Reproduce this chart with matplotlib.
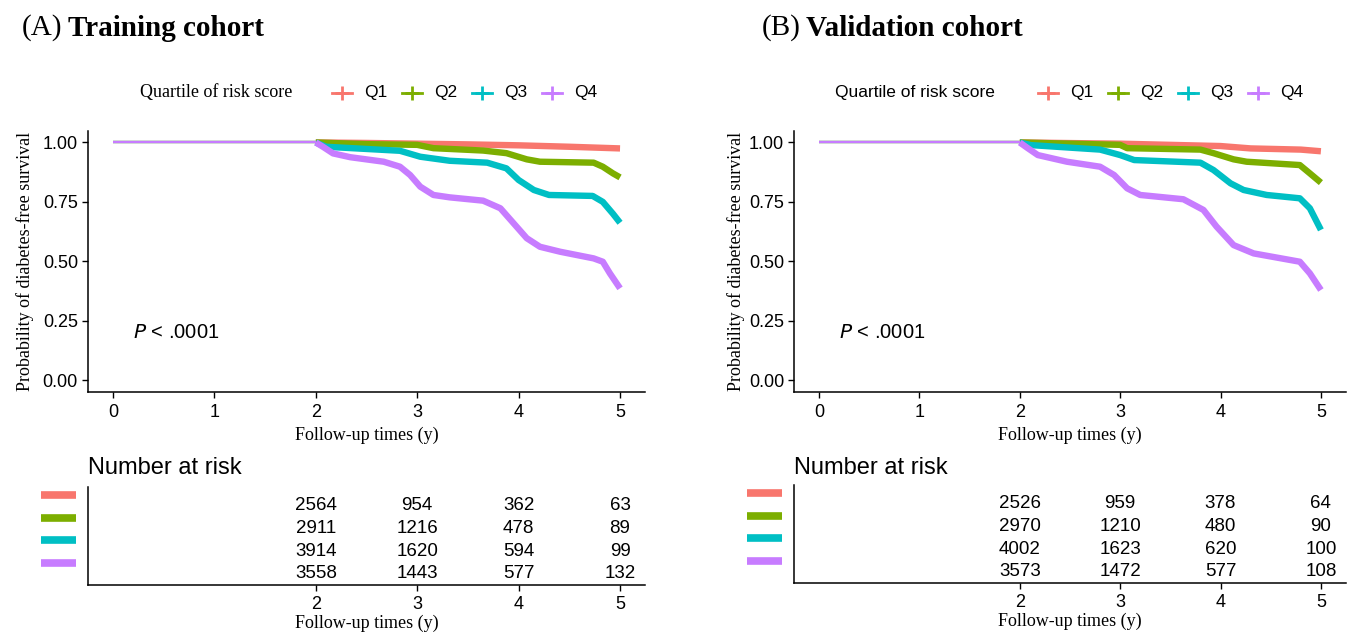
import matplotlib
matplotlib.use('Agg')
import matplotlib.pyplot as plt
from matplotlib.lines import Line2D
from matplotlib.transforms import blended_transform_factory

plt.rcParams['font.family'] = ['Liberation Sans', 'DejaVu Sans']

groups = ['Q1', 'Q2', 'Q3', 'Q4']
colors = ['#F8766D', '#7CAE00', '#00BFC4', '#C77CFF']
risk_times = [2, 3, 4, 5]

# Training cohort curves (years, survival probability)
a_q1_t = [0, 2, 2.5, 3, 3.5, 4, 4.5, 5]
a_q1_s = [1, 1, 0.998, 0.995, 0.992, 0.988, 0.982, 0.975]
a_q2_t = [0, 2, 2.5, 3.0, 3.16, 3.65, 3.88, 4.08, 4.21, 4.74, 4.83, 4.93, 5.0]
a_q2_s = [1, 1, 0.993, 0.99, 0.976, 0.966, 0.955, 0.929, 0.919, 0.915, 0.898, 0.87, 0.853]
a_q3_t = [0, 2, 2.1, 2.83, 3.03, 3.32, 3.69, 3.88, 4.0, 4.15, 4.3, 4.73, 4.83, 4.93, 5.0]
a_q3_s = [1, 1, 0.982, 0.965, 0.94, 0.923, 0.915, 0.891, 0.842, 0.80, 0.779, 0.775, 0.75, 0.70, 0.662]
a_q4_t = [0, 2, 2.07, 2.17, 2.34, 2.67, 2.83, 2.93, 3.03, 3.16, 3.32, 3.65, 3.82, 3.95, 4.08,
          4.21, 4.41, 4.74, 4.83, 4.9, 5.0]
a_q4_s = [1, 1, 0.982, 0.954, 0.938, 0.919, 0.898, 0.863, 0.814, 0.779, 0.769, 0.755, 0.723, 0.66, 0.597,
          0.561, 0.54, 0.512, 0.498, 0.449, 0.386]

# Validation cohort curves
b_q1_t = [0, 2, 3, 3.5, 4, 4.3, 4.8, 5]
b_q1_s = [1, 1, 0.995, 0.99, 0.985, 0.975, 0.97, 0.963]
b_q2_t = [0, 2, 3.0, 3.07, 3.8, 3.93, 4.13, 4.26, 4.79, 4.89, 5.0]
b_q2_s = [1, 1, 0.99, 0.976, 0.97, 0.955, 0.929, 0.919, 0.905, 0.87, 0.831]
b_q3_t = [0, 2, 2.11, 2.8, 3.0, 3.14, 3.8, 3.93, 4.1, 4.23, 4.46, 4.79, 4.89, 5.0]
b_q3_s = [1, 1, 0.989, 0.97, 0.947, 0.926, 0.915, 0.884, 0.828, 0.80, 0.779, 0.765, 0.723, 0.632]
b_q4_t = [0, 2, 2.08, 2.18, 2.47, 2.8, 2.94, 3.07, 3.2, 3.63, 3.83, 3.96, 4.13, 4.33, 4.79, 4.89, 5.0]
b_q4_s = [1, 1, 0.976, 0.947, 0.919, 0.898, 0.863, 0.807, 0.779, 0.761, 0.716, 0.646, 0.568, 0.533,
          0.498, 0.449, 0.379]

# Number at risk at 2, 3, 4, 5 years
a_risk_q1 = [2564, 954, 362, 63]
a_risk_q2 = [2911, 1216, 478, 89]
a_risk_q3 = [3914, 1620, 594, 99]
a_risk_q4 = [3558, 1443, 577, 132]
b_risk_q1 = [2526, 959, 378, 64]
b_risk_q2 = [2970, 1210, 480, 90]
b_risk_q3 = [4002, 1623, 620, 100]
b_risk_q4 = [3573, 1472, 577, 108]

W, H = 1351, 636
fig = plt.figure(figsize=(W / 100, H / 100), dpi=100)


def px(x0, y0, x1, y1):
	# pixel box (left, top, right, bottom) -> figure fraction rect
	return [x0 / W, 1 - y1 / H, (x1 - x0) / W, (y1 - y0) / H]


def style_axes(ax, pad):
	for s in ['top', 'right']:
		ax.spines[s].set_visible(False)
	for s in ['left', 'bottom']:
		ax.spines[s].set_linewidth(1.1)
	ax.tick_params(direction='out', length=4, width=1.0, labelsize=13, pad=pad, colors='black')


def draw_panel(x_left, x_right, tab_top, title_x, letter, name, curves, risk, legend_x, legend_serif, ylab_x):
	ax = fig.add_axes(px(x_left, 130.6, x_right, 391.9))
	for (t, s), c in zip(curves, colors):
		ax.plot(t[:2], s[:2], color=c, lw=1.6, solid_capstyle='butt')
		ax.plot(t[1:], s[1:], color=c, lw=4.6, solid_capstyle='butt', solid_joinstyle='round')
	ax.set_xlim(-0.25, 5.25)
	ax.set_ylim(-0.05, 1.05)
	ax.set_xticks([0, 1, 2, 3, 4, 5])
	ax.set_yticks([0, 0.25, 0.5, 0.75, 1.0])
	ax.set_yticklabels(['0.00', '0.25', '0.50', '0.75', '1.00'])
	style_axes(ax, 3)
	ax.tick_params(axis='x', pad=5)
	ax.set_xlabel('Follow-up times (y)', family='Liberation Serif', fontsize=13, labelpad=4)
	fig.text(ylab_x / W, 1 - 261 / H, 'Probability of diabetes-free survival', family='Liberation Serif',
	         fontsize=13, rotation=90, ha='center', va='center')
	ax.text(0.2, 0.2, r'$\it{P}$ < .0001', fontsize=14.5, ha='left', va='center')

	# title
	fig.text(title_x[0] / W, 1 - 28 / H, '(' + letter + ')', family='Liberation Serif',
	         fontsize=21, ha='left', va='center')
	fig.text(title_x[1] / W, 1 - 28 / H, name, family='Liberation Serif',
	         fontsize=21, weight='bold', ha='left', va='center')

	# legend
	lx0, lmark = legend_x
	fig.text(lx0 / W, 1 - 93 / H, 'Quartile of risk score',
	         family='Liberation Serif' if legend_serif else 'Liberation Sans',
	         fontsize=13 if legend_serif else 12.5, ha='left', va='center')
	for i, (g, c) in enumerate(zip(groups, colors)):
		mx = lmark + i * 70
		fig.add_artist(Line2D([(mx - 10) / W, mx / W, (mx + 10) / W], [1 - 93 / H] * 3, color=c, lw=2,
		                      marker='+', markersize=10, markeredgewidth=2, markevery=[1]))
		fig.text((mx + 22) / W, 1 - 93 / H, g, fontsize=12.5, ha='left', va='center')

	# risk table
	tab = fig.add_axes(px(x_left, tab_top, x_right, tab_top + 98))
	tab.set_xlim(-0.25, 5.25)
	tab.set_ylim(0.43, 4.75)
	style_axes(tab, 4)
	tab.set_xticks(risk_times)
	tab.set_yticks([])
	tab.set_xlabel('Follow-up times (y)', family='Liberation Serif', fontsize=13, labelpad=1)
	tr = blended_transform_factory(fig.transFigure, tab.transData)
	for i, (row, c) in enumerate(zip(risk, colors)):
		yv = 4 - i
		for tm, n in zip(risk_times, row):
			tab.text(tm, yv - 0.08, str(n), fontsize=13.5, ha='center', va='center')
		tab.plot([(x_left - 47) / W, (x_left - 12) / W], [yv + 0.4, yv + 0.4], color=c, lw=5.5,
		         transform=tr, clip_on=False, solid_capstyle='butt')
	fig.text(x_left / W, 1 - 468 / H, 'Number at risk', fontsize=17, ha='left', va='center')


draw_panel(87.6, 645.4, 487, (22, 68), 'A', 'Training cohort',
           [(a_q1_t, a_q1_s), (a_q2_t, a_q2_s), (a_q3_t, a_q3_s), (a_q4_t, a_q4_s)],
           [a_risk_q1, a_risk_q2, a_risk_q3, a_risk_q4], (140, 342), True, 25)
draw_panel(793.9, 1346, 485, (762, 806), 'B', 'Validation cohort',
           [(b_q1_t, b_q1_s), (b_q2_t, b_q2_s), (b_q3_t, b_q3_s), (b_q4_t, b_q4_s)],
           [b_risk_q1, b_risk_q2, b_risk_q3, b_risk_q4], (835, 1048), False, 736)

fig.savefig('out.png', dpi=100)
